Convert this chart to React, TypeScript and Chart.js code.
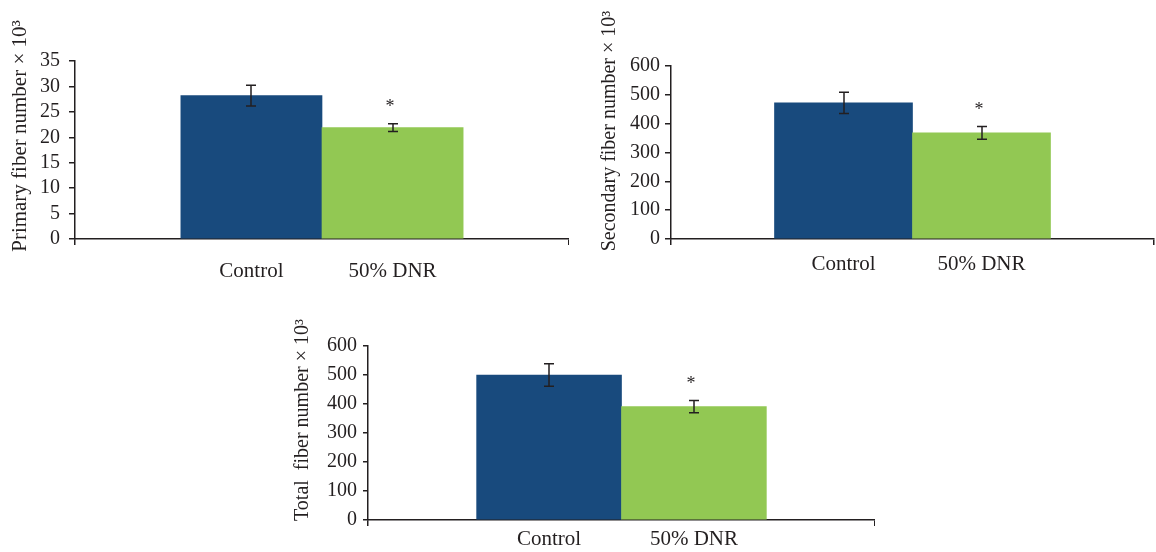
import React, { useEffect, useRef } from "react";
import { Chart, registerables } from "chart.js";

Chart.register(...registerables);

// ---- data ----
const categories = ["Control", "50% DNR"];
const barColors = ["#184A7D", "#92C853"];
const significance = ["", "*"];

const primaryValues = [28.2, 21.9];
const primaryErrors = [2.05, 0.75];
const primaryTitle = "Primary fiber number × 10³";
const primaryMax = 35;
const primaryStep = 5;

const secondaryValues = [472, 368];
const secondaryErrors = [37, 22];
const secondaryTitle = "Secondary fiber number × 10³";
const secondaryMax = 600;
const secondaryStep = 100;

const totalValues = [500, 391];
const totalErrors = [39, 21];
const totalTitle = "Total  fiber number × 10³";
const totalMax = 600;
const totalStep = 100;

const TEXT = "#231F20";
const FONT = "'Liberation Serif', 'Times New Roman', serif";

const annotate = {
  id: "annotate",
  afterDatasetsDraw(chart: any, _args: any, opts: any) {
    const { ctx } = chart;
    const meta = chart.getDatasetMeta(0);
    const y = chart.scales.y;
    ctx.save();
    ctx.strokeStyle = TEXT;
    ctx.fillStyle = TEXT;
    ctx.lineWidth = 1.5;
    meta.data.forEach((bar: any, i: number) => {
      const v = opts.values[i];
      const e = opts.errors[i];
      const x = Math.round(bar.x);
      const yt = y.getPixelForValue(v + e);
      const yb = y.getPixelForValue(v - e);
      ctx.beginPath();
      ctx.moveTo(x, yt);
      ctx.lineTo(x, yb);
      ctx.moveTo(x - 5, yt);
      ctx.lineTo(x + 5, yt);
      ctx.moveTo(x - 5, yb);
      ctx.lineTo(x + 5, yb);
      ctx.stroke();
      if (opts.marks[i]) {
        ctx.font = `18px ${FONT}`;
        ctx.textAlign = "center";
        ctx.textBaseline = "alphabetic";
        ctx.fillText(opts.marks[i], x - 3, yt - 20 + 8);
      }
    });
    ctx.translate(opts.titleX, opts.titleY);
    ctx.rotate(-Math.PI / 2);
    ctx.font = `${opts.titleSize}px ${FONT}`;
    ctx.textAlign = "center";
    ctx.textBaseline = "middle";
    ctx.fillText(opts.title, 0, 0);
    ctx.restore();
  },
};

type PanelProps = {
  left: number;
  top: number;
  width: number;
  height: number;
  padTop: number;
  padRight: number;
  xAxisHeight: number;
  values: number[];
  errors: number[];
  title: string;
  titleX: number;
  titleY: number;
  titleSize: number;
  yMax: number;
  yStep: number;
  yTickLen: number;
  yTickPad: number;
  labelPad: number;
};

const X_MIN = -0.75;
const X_MAX = 2.75;

function BarPanel(p: PanelProps) {
  const ref = useRef<HTMLCanvasElement>(null);
  useEffect(() => {
    const chart = new Chart(ref.current as HTMLCanvasElement, {
      type: "bar",
      data: {
        datasets: [
          {
            data: p.values.map((v, i) => ({ x: i + 0.5, y: v })) as any,
            backgroundColor: barColors,
            borderWidth: 0,
            barPercentage: 1,
            categoryPercentage: 1,
          },
        ],
      },
      options: {
        animation: false,
        responsive: false,
        maintainAspectRatio: false,
        layout: { padding: { top: p.padTop, right: p.padRight, left: 0, bottom: 0 } },
        plugins: {
          legend: { display: false },
          tooltip: { enabled: false },
          annotate: {
            values: p.values,
            errors: p.errors,
            marks: significance,
            title: p.title,
            titleX: p.titleX,
            titleY: p.titleY,
            titleSize: p.titleSize,
          },
        } as any,
        scales: {
          x: {
            type: "linear",
            offset: false,
            min: X_MIN,
            max: X_MAX,
            afterBuildTicks: (s: any) => {
              s.ticks = [X_MIN, ...categories.map((_, i) => i + 0.5), X_MAX].map((value) => ({ value }));
            },
            afterFit: (s: any) => {
              s.height = p.xAxisHeight;
              s.paddingLeft = 0;
              s.paddingRight = 0;
            },
            grid: {
              offset: false,
              drawOnChartArea: false,
              drawTicks: true,
              tickLength: 6,
              lineWidth: 1.5,
              color: (c: any) =>
                c.tick && (c.tick.value === X_MIN || c.tick.value === X_MAX) ? TEXT : "rgba(0,0,0,0)",
            },
            border: { color: TEXT, width: 1.5 },
            ticks: {
              autoSkip: false,
              maxRotation: 0,
              padding: p.labelPad,
              color: TEXT,
              font: { family: FONT, size: 21 },
              callback: (v: any) => {
                const idx = Number(v) - 0.5;
                return categories[idx] ?? "";
              },
            },
          },
          y: {
            min: 0,
            max: p.yMax,
            afterFit: (s: any) => {
              s.width = 75;
            },
            grid: {
              drawOnChartArea: false,
              drawTicks: true,
              tickLength: p.yTickLen,
              lineWidth: 1.5,
              color: TEXT,
            },
            border: { color: TEXT, width: 1.5 },
            ticks: {
              autoSkip: false,
              stepSize: p.yStep,
              padding: p.yTickPad,
              color: TEXT,
              font: { family: FONT, size: 20 },
            },
          },
        } as any,
      },
      plugins: [annotate as any],
    });
    return () => chart.destroy();
  }, []);
  return (
    <div style={{ position: "absolute", left: p.left, top: p.top, width: p.width, height: p.height }}>
      <canvas ref={ref} width={p.width} height={p.height} style={{ display: "block" }} />
    </div>
  );
}

export default function App() {
  return (
    <div
      style={{
        position: "absolute",
        left: 0,
        top: 0,
        width: 1156,
        height: 552,
        background: "#ffffff",
        overflow: "hidden",
      }}
    >
      <BarPanel
        left={0}
        top={0}
        width={569}
        height={290}
        padTop={61}
        padRight={0}
        xAxisHeight={51}
        values={primaryValues}
        errors={primaryErrors}
        title={primaryTitle}
        titleX={20}
        titleY={136}
        titleSize={21}
        yMax={primaryMax}
        yStep={primaryStep}
        yTickLen={6}
        yTickPad={9}
        labelPad={14}
      />
      <BarPanel
        left={596}
        top={0}
        width={560}
        height={290}
        padTop={66}
        padRight={2}
        xAxisHeight={51}
        values={secondaryValues}
        errors={secondaryErrors}
        title={secondaryTitle}
        titleX={14}
        titleY={131}
        titleSize={20}
        yMax={secondaryMax}
        yStep={secondaryStep}
        yTickLen={6}
        yTickPad={5}
        labelPad={7}
      />
      <BarPanel
        left={293}
        top={280}
        width={582}
        height={272}
        padTop={66}
        padRight={0}
        xAxisHeight={32}
        values={totalValues}
        errors={totalErrors}
        title={totalTitle}
        titleX={10}
        titleY={140}
        titleSize={20}
        yMax={totalMax}
        yStep={totalStep}
        yTickLen={5}
        yTickPad={6}
        labelPad={1}
      />
    </div>
  );
}
